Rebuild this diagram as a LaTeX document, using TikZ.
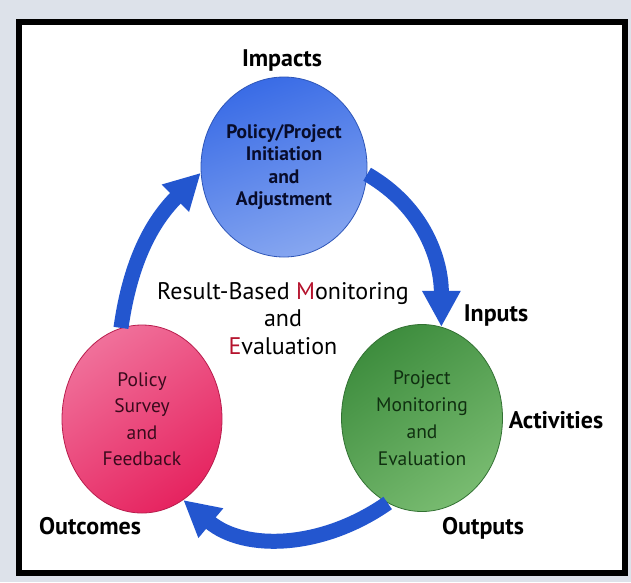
\documentclass[tikz,border=0pt]{standalone}
\usepackage{fontspec}
\setmainfont{PT Sans}
\usetikzlibrary{arrows.meta,shapes.geometric}
\definecolor{bgout}{HTML}{DDE2EA}
\definecolor{arrowblue}{HTML}{2356CF}
\definecolor{mred}{HTML}{B5122C}
\definecolor{bluetop}{HTML}{3A6CE6}
\definecolor{bluebot}{HTML}{86A6F0}
\definecolor{pinktop}{HTML}{F0709A}
\definecolor{pinkbot}{HTML}{E62460}
\definecolor{greentop}{HTML}{3E8D3E}
\definecolor{greenbot}{HTML}{78BB70}
\definecolor{pinktext}{HTML}{3A0A1C}
\definecolor{greentext}{HTML}{0F2F10}
\definecolor{bluetext}{HTML}{080C2A}
\begin{document}
\begin{tikzpicture}[x=1pt,y=1pt,
  bubble/.style={ellipse, inner sep=0pt, align=center, line width=0.8pt},
  cyc/.style={draw=arrowblue, line width=15pt, -{Triangle[length=36pt 0 0, width=36pt 0 0]}},
  lbl/.style={font=\fontsize{24}{28}\selectfont\bfseries, inner sep=0pt, anchor=base}]
\useasboundingbox (0,0) rectangle (631,-582);
\fill[bgout] (0,0) rectangle (631,-582);
\fill[white] (19,-22) rectangle (625,-573);
\draw[black, line width=6pt] (19,-22) rectangle (625,-573);

\node[bubble, minimum width=166pt, minimum height=180pt, draw=bluetop!80!black,
  top color=bluetop, bottom color=bluebot, shading angle=20,
  font=\fontsize{19.5}{22.6}\selectfont\bfseries, text=bluetext]
  (blue) at (284,-167) {Policy/Project\\Initiation\\and\\Adjustment};
\node[bubble, minimum width=160pt, minimum height=188pt, draw=pinkbot!80!black,
  top color=pinktop, bottom color=pinkbot, shading angle=35,
  font=\fontsize{19.5}{26.5}\selectfont, text=pinktext]
  (pink) at (142,-419) {Policy\\Survey\\and\\Feedback};
\node[bubble, minimum width=161pt, minimum height=187pt, draw=greentop!80!black,
  top color=greentop, bottom color=greenbot, shading angle=35,
  font=\fontsize{19.5}{27}\selectfont, text=greentext]
  (green) at (422,-418) {Project\\Monitoring\\and\\Evaluation};

\draw[cyc] (blue.-5) to[out=-30,in=90] (green.78);
\draw[cyc] (green.248) to[out=-145,in=-40] (pink.-63);
\draw[cyc] (pink.103) to[out=82,in=225] (blue.184);

\node[align=center, inner sep=0pt, font=\fontsize{24}{27.5}\selectfont]
  (title) at (283,-318.5) {Result-Based \textcolor{mred}{M}onitoring\\and\\\textcolor{mred}{E}valuation};

\node[lbl] (impacts) at (282,-66) {Impacts};
\node[lbl] (inputs) at (496,-321) {Inputs};
\node[lbl] (activities) at (556,-428) {Activities};
\node[lbl] (outputs) at (483,-534) {Outputs};
\node[lbl] (outcomes) at (90,-534) {Outcomes};
\end{tikzpicture}
\end{document}
